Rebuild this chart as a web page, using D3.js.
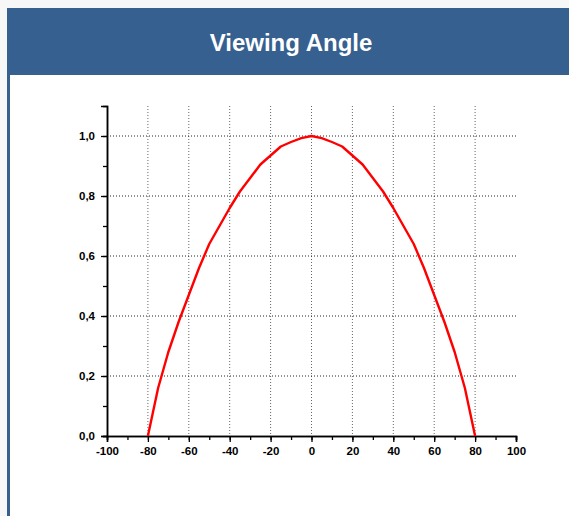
<!DOCTYPE html>
<html>
<head>
<meta charset="utf-8">
<script src="https://cdn.jsdelivr.net/npm/d3@7"></script>
<style>
  body { margin: 0; background: #f7f7f7; }
  svg { display: block; }
  .tick text { font-family: "Liberation Sans", Arial, sans-serif; font-weight: bold; font-size: 11.5px; fill: #000; }
</style>
</head>
<body>
<svg></svg>
<script>
var width = 569, height = 516;

// data (angle in degrees, relative luminance)
var angles = [-80, -75, -70, -65, -60, -55, -50, -45, -40, -35, -30, -25, -20, -15, -10, -5, 0,
              5, 10, 15, 20, 25, 30, 35, 40, 45, 50, 55, 60, 65, 70, 75, 80];
var values = [0, 0.16, 0.28, 0.38, 0.47, 0.56, 0.64, 0.70, 0.76, 0.815, 0.86, 0.905, 0.935, 0.965, 0.98, 0.993, 1.0,
              0.993, 0.98, 0.965, 0.935, 0.905, 0.86, 0.815, 0.76, 0.70, 0.64, 0.56, 0.47, 0.38, 0.28, 0.16, 0];
var xTicks = [-100, -80, -60, -40, -20, 0, 20, 40, 60, 80, 100];
var yTicks = [0, 0.2, 0.4, 0.6, 0.8, 1.0];
var title = "Viewing Angle";

var svg = d3.select("svg")
    .attr("width", width)
    .attr("height", height);

// panel
svg.append("rect").attr("x", 7).attr("y", 8).attr("width", width - 7).attr("height", height - 8).attr("fill", "#fff");
svg.append("rect").attr("x", 7).attr("y", 8).attr("width", width - 7).attr("height", 67).attr("fill", "#36608f");
svg.append("rect").attr("x", 7).attr("y", 75).attr("width", 3).attr("height", height - 75).attr("fill", "#36608f");
svg.append("text")
    .attr("x", 291).attr("y", 51)
    .attr("text-anchor", "middle")
    .attr("fill", "#fff")
    .style("font-family", "Liberation Sans, Arial, sans-serif")
    .style("font-weight", "bold")
    .style("font-size", "24px")
    .text(title);

var x = d3.scaleLinear().domain([-100, 100]).range([107, 516]);
var y = d3.scaleLinear().domain([0, 1.1]).range([436, 106]);

// grid
svg.append("g").selectAll("line")
    .data(xTicks.filter(function (d) { return d > -100 && d < 100; }))
    .enter().append("line")
    .attr("x1", function (d) { return x(d); })
    .attr("x2", function (d) { return x(d); })
    .attr("y1", y(1.1)).attr("y2", y(0))
    .attr("stroke", "#666").attr("stroke-dasharray", "1,2");

svg.append("g").selectAll("line")
    .data(yTicks.filter(function (d) { return d > 0; }))
    .enter().append("line")
    .attr("x1", x(-100)).attr("x2", x(100))
    .attr("y1", function (d) { return y(d); })
    .attr("y2", function (d) { return y(d); })
    .attr("stroke", "#222").attr("stroke-dasharray", "1,2");

// axes
var xfmt = function (d) { return String(d); };
var xAxis = svg.append("g").attr("transform", "translate(0," + y(0) + ")");
xAxis.call(d3.axisBottom(x).tickValues(d3.range(-100, 101, 10)).tickSize(4).tickFormat(""));
xAxis.append("g").call(d3.axisBottom(x).tickValues(xTicks).tickSize(6).tickPadding(5).tickFormat(xfmt));
xAxis.selectAll("path,line").attr("stroke", "#000").attr("stroke-width", 1.3);

var fmt = function (d) { return d3.format(".1f")(d).replace(".", ","); };
var yAxis = svg.append("g").attr("transform", "translate(" + x(-100) + ",0)");
yAxis.call(d3.axisLeft(y).tickValues(d3.range(0, 11).map(function (i) { return i / 10; })).tickSize(4).tickFormat(""));
yAxis.append("g").call(d3.axisLeft(y).tickValues(yTicks).tickSize(6).tickPadding(6).tickFormat(fmt));
yAxis.selectAll("path,line").attr("stroke", "#000").attr("stroke-width", 1.3);
svg.selectAll(".domain").attr("stroke-width", 1.5);

// curve
var line = d3.line()
    .x(function (d, i) { return x(angles[i]); })
    .y(function (d) { return y(d); });

svg.append("path")
    .datum(values)
    .attr("d", line)
    .attr("fill", "none")
    .attr("stroke", "#ff0000")
    .attr("stroke-width", 2.4)
    .attr("stroke-linejoin", "round");
</script>
</body>
</html>
